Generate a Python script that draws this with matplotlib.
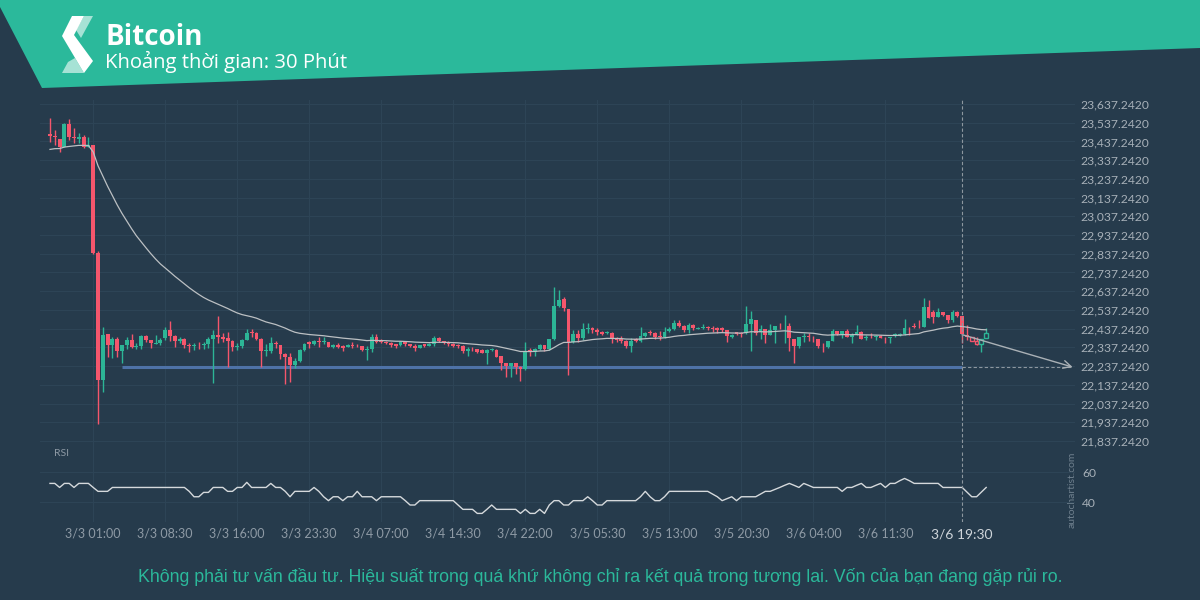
import matplotlib
matplotlib.use('Agg')
import matplotlib.pyplot as plt
import matplotlib.transforms as mtransforms
from matplotlib.patches import Polygon
import pandas as pd

# 30 minute candles
opens = [23477, 23468, 23448, 23409, 23530, 23463, 23448, 23463, 23406, 23418,
         22839, 22163, 22407, 22350, 22382, 22319, 22350, 22376, 22341, 22344,
         22398, 22376, 22355, 22362, 22385, 22430, 22398, 22373, 22380, 22350,
         22346, 22350, 22350, 22355, 22382, 22403, 22391, 22385, 22373, 22337,
         22344, 22376, 22417, 22412, 22382, 22319, 22319, 22362, 22350, 22302,
         22287, 22243, 22264, 22323, 22365, 22357, 22370, 22366, 22366, 22341,
         22350, 22344, 22341, 22350, 22346, 22344, 22323, 22328, 22391, 22376,
         22368, 22362, 22355, 22350, 22368, 22353, 22346, 22335, 22353, 22346,
         22353, 22387, 22371, 22359, 22353, 22350, 22344, 22319, 22330, 22328,
         22323, 22309, 22323, 22323, 22291, 22252, 22238, 22252, 22230, 22220,
         22323, 22314, 22327, 22350, 22327, 22380, 22558, 22594, 22540, 22368,
         22409, 22385, 22435, 22439, 22430, 22421, 22412, 22412, 22385, 22380,
         22373, 22344, 22380, 22373, 22398, 22419, 22412, 22398, 22394, 22425,
         22433, 22466, 22451, 22430, 22457, 22435, 22439, 22448, 22442, 22439,
         22439, 22430, 22394, 22417, 22412, 22412, 22462, 22483, 22421, 22433,
         22403, 22430, 22453, 22449, 22451, 22380, 22344, 22394, 22398, 22387,
         22380, 22346, 22341, 22373, 22425, 22408, 22425, 22394, 22403, 22421,
         22385, 22405, 22391, 22398, 22389, 22385, 22398, 22403, 22408, 22448,
         22451, 22451, 22444, 22555, 22528, 22501, 22528, 22510, 22483, 22528,
         22506, 22403, 22394, 22371, 22353, 22385]
highs = [23561, 23498, 23448, 23537, 23555, 23507, 23484, 23472, 23459, 23418,
         22852, 22448, 22407, 22394, 22391, 22350, 22391, 22407, 22362, 22403,
         22403, 22376, 22403, 22385, 22448, 22478, 22403, 22394, 22385, 22362,
         22362, 22367, 22367, 22391, 22430, 22505, 22412, 22417, 22376, 22358,
         22380, 22433, 22433, 22417, 22385, 22355, 22394, 22373, 22350, 22305,
         22305, 22278, 22326, 22358, 22373, 22376, 22391, 22391, 22368, 22355,
         22359, 22350, 22355, 22368, 22353, 22346, 22344, 22408, 22408, 22380,
         22373, 22368, 22355, 22371, 22371, 22355, 22353, 22350, 22355, 22359,
         22398, 22391, 22373, 22371, 22359, 22355, 22350, 22341, 22341, 22328,
         22326, 22328, 22332, 22326, 22291, 22252, 22255, 22255, 22238, 22367,
         22332, 22335, 22353, 22350, 22382, 22661, 22644, 22608, 22540, 22430,
         22430, 22469, 22466, 22444, 22439, 22426, 22425, 22417, 22394, 22398,
         22376, 22385, 22385, 22448, 22421, 22430, 22421, 22425, 22448, 22444,
         22483, 22483, 22457, 22469, 22460, 22444, 22460, 22451, 22451, 22444,
         22444, 22430, 22407, 22421, 22421, 22558, 22531, 22483, 22457, 22433,
         22462, 22451, 22465, 22510, 22465, 22380, 22394, 22416, 22412, 22398,
         22380, 22359, 22373, 22433, 22425, 22425, 22433, 22416, 22457, 22426,
         22403, 22416, 22403, 22403, 22394, 22394, 22412, 22416, 22487, 22448,
         22465, 22483, 22599, 22590, 22537, 22546, 22528, 22510, 22537, 22533,
         22506, 22457, 22394, 22394, 22380, 22439]
lows = [23436, 23418, 23383, 23409, 23445, 23427, 23427, 23400, 23406, 22835,
        21927, 22100, 22287, 22278, 22287, 22252, 22326, 22332, 22326, 22326,
        22367, 22332, 22353, 22350, 22376, 22373, 22341, 22358, 22332, 22314,
        22323, 22326, 22326, 22332, 22145, 22358, 22367, 22234, 22319, 22323,
        22332, 22376, 22391, 22376, 22234, 22291, 22305, 22332, 22273, 22141,
        22150, 22229, 22261, 22319, 22332, 22350, 22337, 22355, 22337, 22335,
        22332, 22318, 22337, 22332, 22337, 22318, 22270, 22314, 22362, 22359,
        22353, 22337, 22335, 22346, 22346, 22341, 22318, 22332, 22341, 22344,
        22346, 22366, 22355, 22344, 22337, 22335, 22309, 22291, 22318, 22309,
        22305, 22248, 22319, 22285, 22216, 22181, 22181, 22195, 22159, 22216,
        22291, 22291, 22323, 22319, 22323, 22376, 22555, 22533, 22189, 22362,
        22368, 22376, 22412, 22412, 22403, 22403, 22409, 22362, 22368, 22362,
        22332, 22314, 22368, 22368, 22394, 22403, 22380, 22376, 22389, 22421,
        22430, 22448, 22421, 22416, 22430, 22433, 22435, 22430, 22421, 22416,
        22421, 22368, 22389, 22403, 22394, 22410, 22319, 22403, 22380, 22362,
        22403, 22362, 22433, 22359, 22319, 22255, 22332, 22368, 22373, 22368,
        22332, 22314, 22332, 22373, 22403, 22385, 22394, 22359, 22403, 22382,
        22376, 22385, 22376, 22385, 22359, 22362, 22394, 22398, 22405, 22403,
        22440, 22440, 22444, 22492, 22465, 22501, 22505, 22469, 22474, 22501,
        22359, 22376, 22373, 22350, 22314, 22385]
closes = [23468, 23459, 23409, 23530, 23463, 23454, 23463, 23409, 23418, 22843,
          22163, 22403, 22350, 22382, 22319, 22350, 22376, 22341, 22344, 22398,
          22376, 22358, 22362, 22376, 22430, 22398, 22373, 22380, 22350, 22346,
          22350, 22348, 22355, 22382, 22403, 22391, 22380, 22373, 22337, 22344,
          22376, 22412, 22412, 22382, 22319, 22323, 22362, 22353, 22302, 22287,
          22243, 22264, 22323, 22355, 22357, 22370, 22366, 22368, 22341, 22350,
          22341, 22335, 22350, 22344, 22344, 22323, 22328, 22394, 22368, 22368,
          22359, 22350, 22346, 22368, 22353, 22346, 22332, 22348, 22346, 22353,
          22387, 22371, 22359, 22353, 22346, 22346, 22318, 22328, 22328, 22314,
          22309, 22323, 22328, 22287, 22252, 22238, 22252, 22230, 22220, 22314,
          22314, 22327, 22350, 22327, 22380, 22558, 22590, 22546, 22368, 22409,
          22385, 22433, 22439, 22430, 22417, 22409, 22421, 22385, 22376, 22373,
          22344, 22373, 22373, 22398, 22416, 22412, 22394, 22394, 22421, 22433,
          22466, 22451, 22430, 22457, 22439, 22442, 22448, 22439, 22433, 22430,
          22430, 22398, 22403, 22409, 22410, 22462, 22487, 22412, 22433, 22403,
          22430, 22451, 22449, 22451, 22385, 22344, 22394, 22398, 22391, 22385,
          22344, 22344, 22373, 22425, 22408, 22425, 22394, 22403, 22421, 22382,
          22394, 22401, 22398, 22389, 22385, 22394, 22408, 22408, 22442, 22444,
          22444, 22449, 22555, 22496, 22501, 22528, 22510, 22483, 22528, 22506,
          22408, 22394, 22373, 22353, 22380, 22416]

rsi = [52.6, 52.6, 49.9, 52.6, 52.6, 49.9, 52.6, 52.6, 52.6, 49.9,
       47.3, 47.3, 47.3, 49.9, 49.9, 49.9, 49.9, 49.9, 49.9, 49.9,
       49.9, 49.9, 49.9, 49.9, 49.9, 49.9, 49.9, 49.9, 49.9, 47.3,
       43.7, 43.7, 46.6, 46.6, 49.9, 49.9, 49.9, 47.3, 47.3, 49.9,
       49.9, 53.3, 49.9, 49.9, 49.9, 49.9, 52.6, 49.9, 49.9, 47.3,
       43.7, 47.3, 47.3, 47.3, 47.3, 49.9, 47.3, 43.7, 41.1, 43.7,
       43.7, 41.1, 43.7, 43.7, 47.3, 43.7, 43.7, 43.7, 41.1, 43.7,
       43.7, 43.7, 43.7, 43.7, 41.1, 38.2, 38.2, 41.1, 41.1, 41.1,
       41.1, 41.1, 41.1, 41.1, 41.1, 38.2, 35.3, 35.3, 35.3, 32.6,
       32.6, 35.3, 38.2, 35.3, 35.3, 35.3, 35.3, 35.3, 32.6, 35.3,
       32.6, 32.6, 35.3, 32.6, 38.2, 41.1, 41.1, 38.2, 38.2, 41.1,
       41.1, 41.1, 43.7, 41.1, 38.2, 38.2, 41.1, 41.1, 41.1, 41.1,
       41.1, 41.1, 41.1, 43.7, 47.3, 43.7, 41.1, 41.1, 43.7, 47.3,
       47.3, 47.3, 47.3, 47.3, 47.3, 47.3, 47.3, 47.3, 45.5, 43.7,
       41.1, 42.4, 43.7, 41.1, 43.7, 43.7, 43.7, 43.7, 45.5, 47.3,
       47.3, 48.6, 49.9, 51.3, 52.6, 51.3, 49.9, 52.6, 51.3, 49.9,
       49.9, 49.9, 49.9, 49.9, 49.9, 47.3, 49.9, 49.9, 51.3, 52.6,
       49.9, 49.9, 51.3, 52.6, 49.9, 52.6, 52.6, 54.4, 55.9, 54.4,
       52.6, 52.6, 52.6, 52.6, 52.6, 52.6, 49.9, 49.9, 49.9, 49.9,
       49.9, 46.8, 43.7, 43.7, 46.8, 49.9]

ma_seed = 23390          # moving average level just before the first candle
support_level = 22232
forecast_start = 22405
hollow_from = 192        # last candles are drawn as outlines
first_candle = '2023-03-02 20:30'

x_labels = ['3/3 01:00', '3/3 08:30', '3/3 16:00', '3/3 23:30', '3/4 07:00',
            '3/4 14:30', '3/4 22:00', '3/5 05:30', '3/5 13:00', '3/5 20:30',
            '3/6 04:00', '3/6 11:30']
signal_label = '3/6 19:30'
y_ticks = [21837.242 + 100 * k for k in range(19)]
rsi_ticks = [40, 60]

BG = '#263b4c'
GRID = '#2d4456'
TEAL = '#2bb99b'
UP = '#2cb596'
DOWN = '#f5566c'

times = pd.date_range(first_candle, periods=len(closes), freq='30min')
names = [f'{t.month}/{t.day} {t:%H:%M}' for t in times]
tick_idx = [names.index(s) for s in x_labels]
signal_idx = names.index(signal_label)
idx = list(range(len(closes)))

ma = pd.Series([ma_seed] + closes).ewm(span=32, adjust=False).mean().values[1:]

W, H = 1200, 600


def rect(x0, y0, x1, y1):
    return [x0 / W, 1 - y1 / H, (x1 - x0) / W, (y1 - y0) / H]


fig = plt.figure(figsize=(12, 6), dpi=100, facecolor=BG)

# header band and logo
bg = fig.add_axes([0, 0, 1, 1])
bg.set_xlim(0, W)
bg.set_ylim(H, 0)
bg.axis('off')
bg.add_patch(Polygon([(0, 0), (W, 0), (W, 48), (42, 88), (0, 7)], closed=True,
                     facecolor=TEAL, edgecolor='none'))
bg.add_patch(Polygon([(84, 16), (93, 16), (81, 38), (76, 30)], facecolor='#a6e2d5', edgecolor='none'))
bg.add_patch(Polygon([(62, 73), (84, 73), (75, 58), (68, 62)], facecolor='#a6e2d5', edgecolor='none'))
bg.add_patch(Polygon([(72, 16), (84, 16), (74, 35), (93, 61), (84, 73), (62, 36)],
                     facecolor='white', edgecolor='none'))
bg.text(105, 45, 'Bitcoin', color='white', fontsize=20, fontweight='bold',
        family='Open Sans', va='baseline')
bg.text(105, 68, 'Khoảng thời gian: 30 Phút', color='white', fontsize=14.6,
        family='Open Sans', va='baseline')
bg.text(54, 454, 'RSI', color='#8e9aa5', fontsize=7.5, family='Lato', va='center')
bg.text(1072, 490, 'autochartist.com', color='#6f808e', fontsize=7.5, family='Lato',
        rotation=90, ha='center', va='center')
bg.text(600, 582, 'Không phải tư vấn đầu tư. Hiệu suất trong quá khứ không chỉ ra kết quả '
        'trong tương lai. Vốn của bạn đang gặp rủi ro.', color=TEAL, fontsize=12.8,
        family='Liberation Sans', ha='center', va='baseline')

# price panel
ax = fig.add_axes(rect(40, 100, 1075, 448))
ax.set_facecolor('none')
ax.set_xlim(-2.08, 213.5)
ax.set_ylim(21799.6, 23658.6)
for s in ax.spines.values():
    s.set_visible(False)
ax.set_xticks(tick_idx)
ax.tick_params(axis='x', length=0, labelbottom=False)
ax.yaxis.tick_right()
ax.set_yticks(y_ticks)
ax.set_yticklabels([f'{v:,.4f}' for v in y_ticks])
ax.tick_params(axis='y', length=0, pad=3.6, labelsize=8.7, labelcolor='#a7b0b8')
for lab in ax.get_yticklabels():
    lab.set_family('Lato')
ax.grid(True, color=GRID, lw=0.8)
ax.set_axisbelow(True)

colors = [UP if c >= o else DOWN for o, c in zip(opens, closes)]
bottoms = [min(o, c) for o, c in zip(opens, closes)]
heights = [max(abs(c - o), 3) for o, c in zip(opens, closes)]
ax.vlines(idx, lows, highs, colors=colors, lw=1, zorder=3)
solid = idx[:hollow_from]
ax.bar(solid, heights[:hollow_from], bottom=bottoms[:hollow_from], width=0.8,
       color=colors[:hollow_from], zorder=4)
ax.bar(idx[hollow_from:], heights[hollow_from:], bottom=bottoms[hollow_from:], width=0.8,
       facecolor=BG, edgecolor=colors[hollow_from:], lw=1, zorder=4)
ax.plot(idx, ma, color='#bcc0c3', lw=0.9, zorder=5)

ax.hlines(support_level, 15, signal_idx, color='#4e72a7', lw=2.2, zorder=2)
ax.hlines(support_level, signal_idx, 213, color='#8d979f', lw=0.8, ls=(0, (3, 2)), zorder=2)
ax.annotate('', xy=(213, support_level), xytext=(signal_idx, forecast_start),
            arrowprops=dict(arrowstyle='->', color='#aab1b6', lw=1, mutation_scale=14,
                            shrinkA=0, shrinkB=0), zorder=6)
ax.axvline(signal_idx, color='#8d979f', lw=0.8, ls=(0, (3, 2)), zorder=6)

# RSI panel
ar = fig.add_axes(rect(40, 448, 1075, 522))
ar.set_facecolor('none')
ar.set_xlim(-2.08, 213.5)
ar.set_ylim(26.87, 76.2)
for s in ar.spines.values():
    s.set_visible(False)
ar.set_xticks(tick_idx)
ar.set_xticklabels(x_labels)
ar.tick_params(axis='x', length=0, pad=4, labelsize=9, labelcolor='#8e9aa5')
for lab in ar.get_xticklabels():
    lab.set_family('Lato')
ar.yaxis.tick_right()
ar.set_yticks(rsi_ticks)
ar.tick_params(axis='y', length=0, pad=5, labelsize=8.7, labelcolor='#a7b0b8')
for lab in ar.get_yticklabels():
    lab.set_family('Lato')
ar.grid(True, color=GRID, lw=0.8)
ar.set_axisbelow(True)
ar.plot(idx, rsi, color='#d5d9dc', lw=1, zorder=3)
ar.axvline(signal_idx, ymax=0.95, color='#8d979f', lw=0.8, ls=(0, (3, 2)), zorder=4)
trans = mtransforms.blended_transform_factory(ar.transData, ar.transAxes)
ar.text(signal_idx, -0.17, signal_label, transform=trans, ha='center', va='center',
        fontsize=10, family='Lato', color='#cfd5da')

fig.savefig('out.png', dpi=100, facecolor=BG)
